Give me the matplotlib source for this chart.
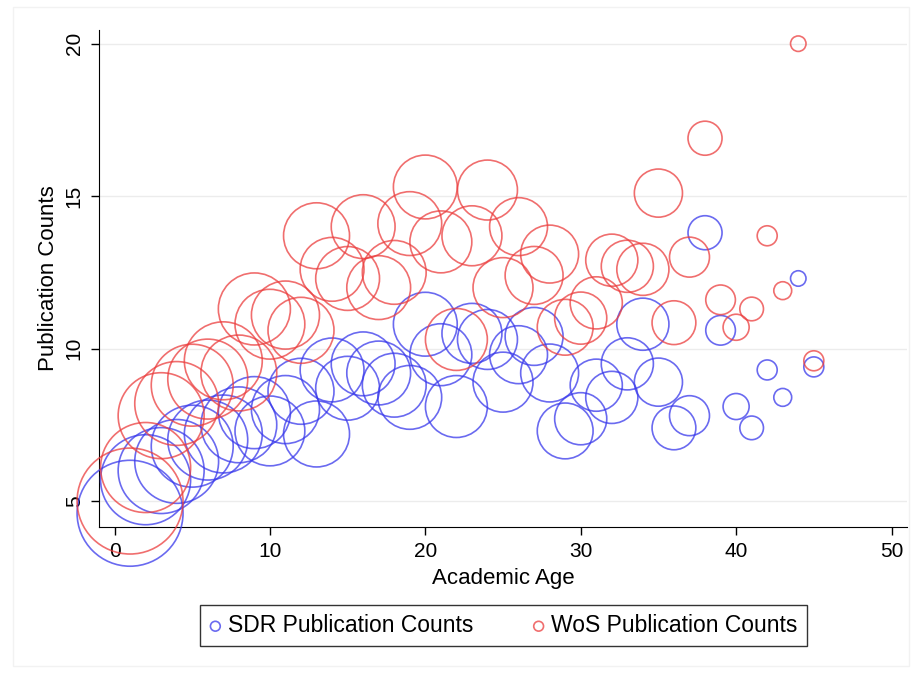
import numpy as np
import matplotlib.pyplot as plt
from matplotlib.patches import Rectangle

# Andmed: akadeemiline vanus, keskmised publikatsioonide arvud ja inimeste arv (mullide suurus)
ages = list(range(1, 46))
sdr_counts = [4.6, 5.7, 6.0, 6.3, 6.8, 7.0, 7.2, 7.5, 7.9, 7.3,
              8.0, 8.6, 7.2, 9.3, 8.7, 9.5, 9.2, 8.8, 8.4, 10.8,
              9.8, 8.1, 10.5, 10.3, 8.9, 9.8, 10.4, 9.2, 7.3, 7.7,
              8.8, 8.4, 9.5, 10.8, 8.9, 7.4, 7.8, 13.8, 10.6, 8.1,
              7.4, 9.3, 8.4, 12.3, 9.4]
wos_counts = [5.0, 6.1, 7.8, 8.2, 8.8, 9.0, 9.6, 9.2, 11.3, 10.8,
              11.1, 10.6, 13.7, 12.6, 12.3, 14.0, 12.0, 12.5, 14.1, 15.3,
              13.5, 10.3, 13.7, 15.2, 12.0, 14.0, 12.4, 13.1, 10.7, 11.0,
              11.5, 12.9, 12.7, 12.6, 15.1, 10.85, 13.0, 16.9, 11.6, 10.7,
              11.3, 13.7, 11.9, 20.0, 9.6]
n_people = [281, 203, 185, 176, 168, 160, 152, 144, 130, 122,
            116, 109, 109, 102, 102, 102, 102, 102, 102, 102,
            96, 96, 90, 90, 90, 84, 84, 84, 78, 68,
            68, 68, 68, 68, 58, 48, 40, 29, 22, 17,
            14, 10, 8, 6, 10]

plt.rcParams['font.family'] = ['Liberation Sans', 'DejaVu Sans']

fig = plt.figure(figsize=(9.19, 6.75), dpi=100)
fig.patches.append(Rectangle((0.014, 0.014), 0.975, 0.975, transform=fig.transFigure,
                             fill=False, edgecolor='#f2f2f2', lw=1))
ax = fig.add_axes([0.1077, 0.2193, 0.8793, 0.7363])

sizes = np.array(n_people) * 20.7
blue = (0.22, 0.22, 0.92, 0.75)
red = (0.92, 0.24, 0.24, 0.75)
ax.scatter(ages, sdr_counts, s=sizes, facecolors='none', edgecolors=[blue],
           linewidths=1.2, clip_on=False, label='SDR Publication Counts', zorder=3)
ax.scatter(ages, wos_counts, s=sizes, facecolors='none', edgecolors=[red],
           linewidths=1.2, clip_on=False, label='WoS Publication Counts', zorder=3)

ax.set_xlim(-1, 51)
ax.set_ylim(4.15, 20.45)
ax.set_xticks([0, 10, 20, 30, 40, 50])
ax.set_yticks([5, 10, 15, 20])
ax.tick_params(labelsize=15, length=6, width=1, color='black')
ax.tick_params(axis='x', pad=5)
ax.tick_params(axis='y', pad=5)
for lbl in ax.get_yticklabels():
    lbl.set_rotation(90)
    lbl.set_va('center')
ax.grid(axis='y', color='#ececec', lw=1)
ax.set_axisbelow(True)
ax.spines['top'].set_visible(False)
ax.spines['right'].set_visible(False)
ax.set_xlabel('Academic Age', fontsize=16, labelpad=5)
ax.set_ylabel('Publication Counts', fontsize=16, labelpad=4)

leg = fig.legend(loc='center', bbox_to_anchor=(0.548, 0.073), ncol=2, frameon=True,
                 fancybox=False, edgecolor='black', fontsize=16.5, scatterpoints=1,
                 handlelength=0.5, handletextpad=0.3, columnspacing=2.6,
                 borderpad=0.4)
leg.get_frame().set_linewidth(1)
for h in leg.legend_handles:
    h.set_sizes([50])

plt.savefig('out.png', dpi=100)
